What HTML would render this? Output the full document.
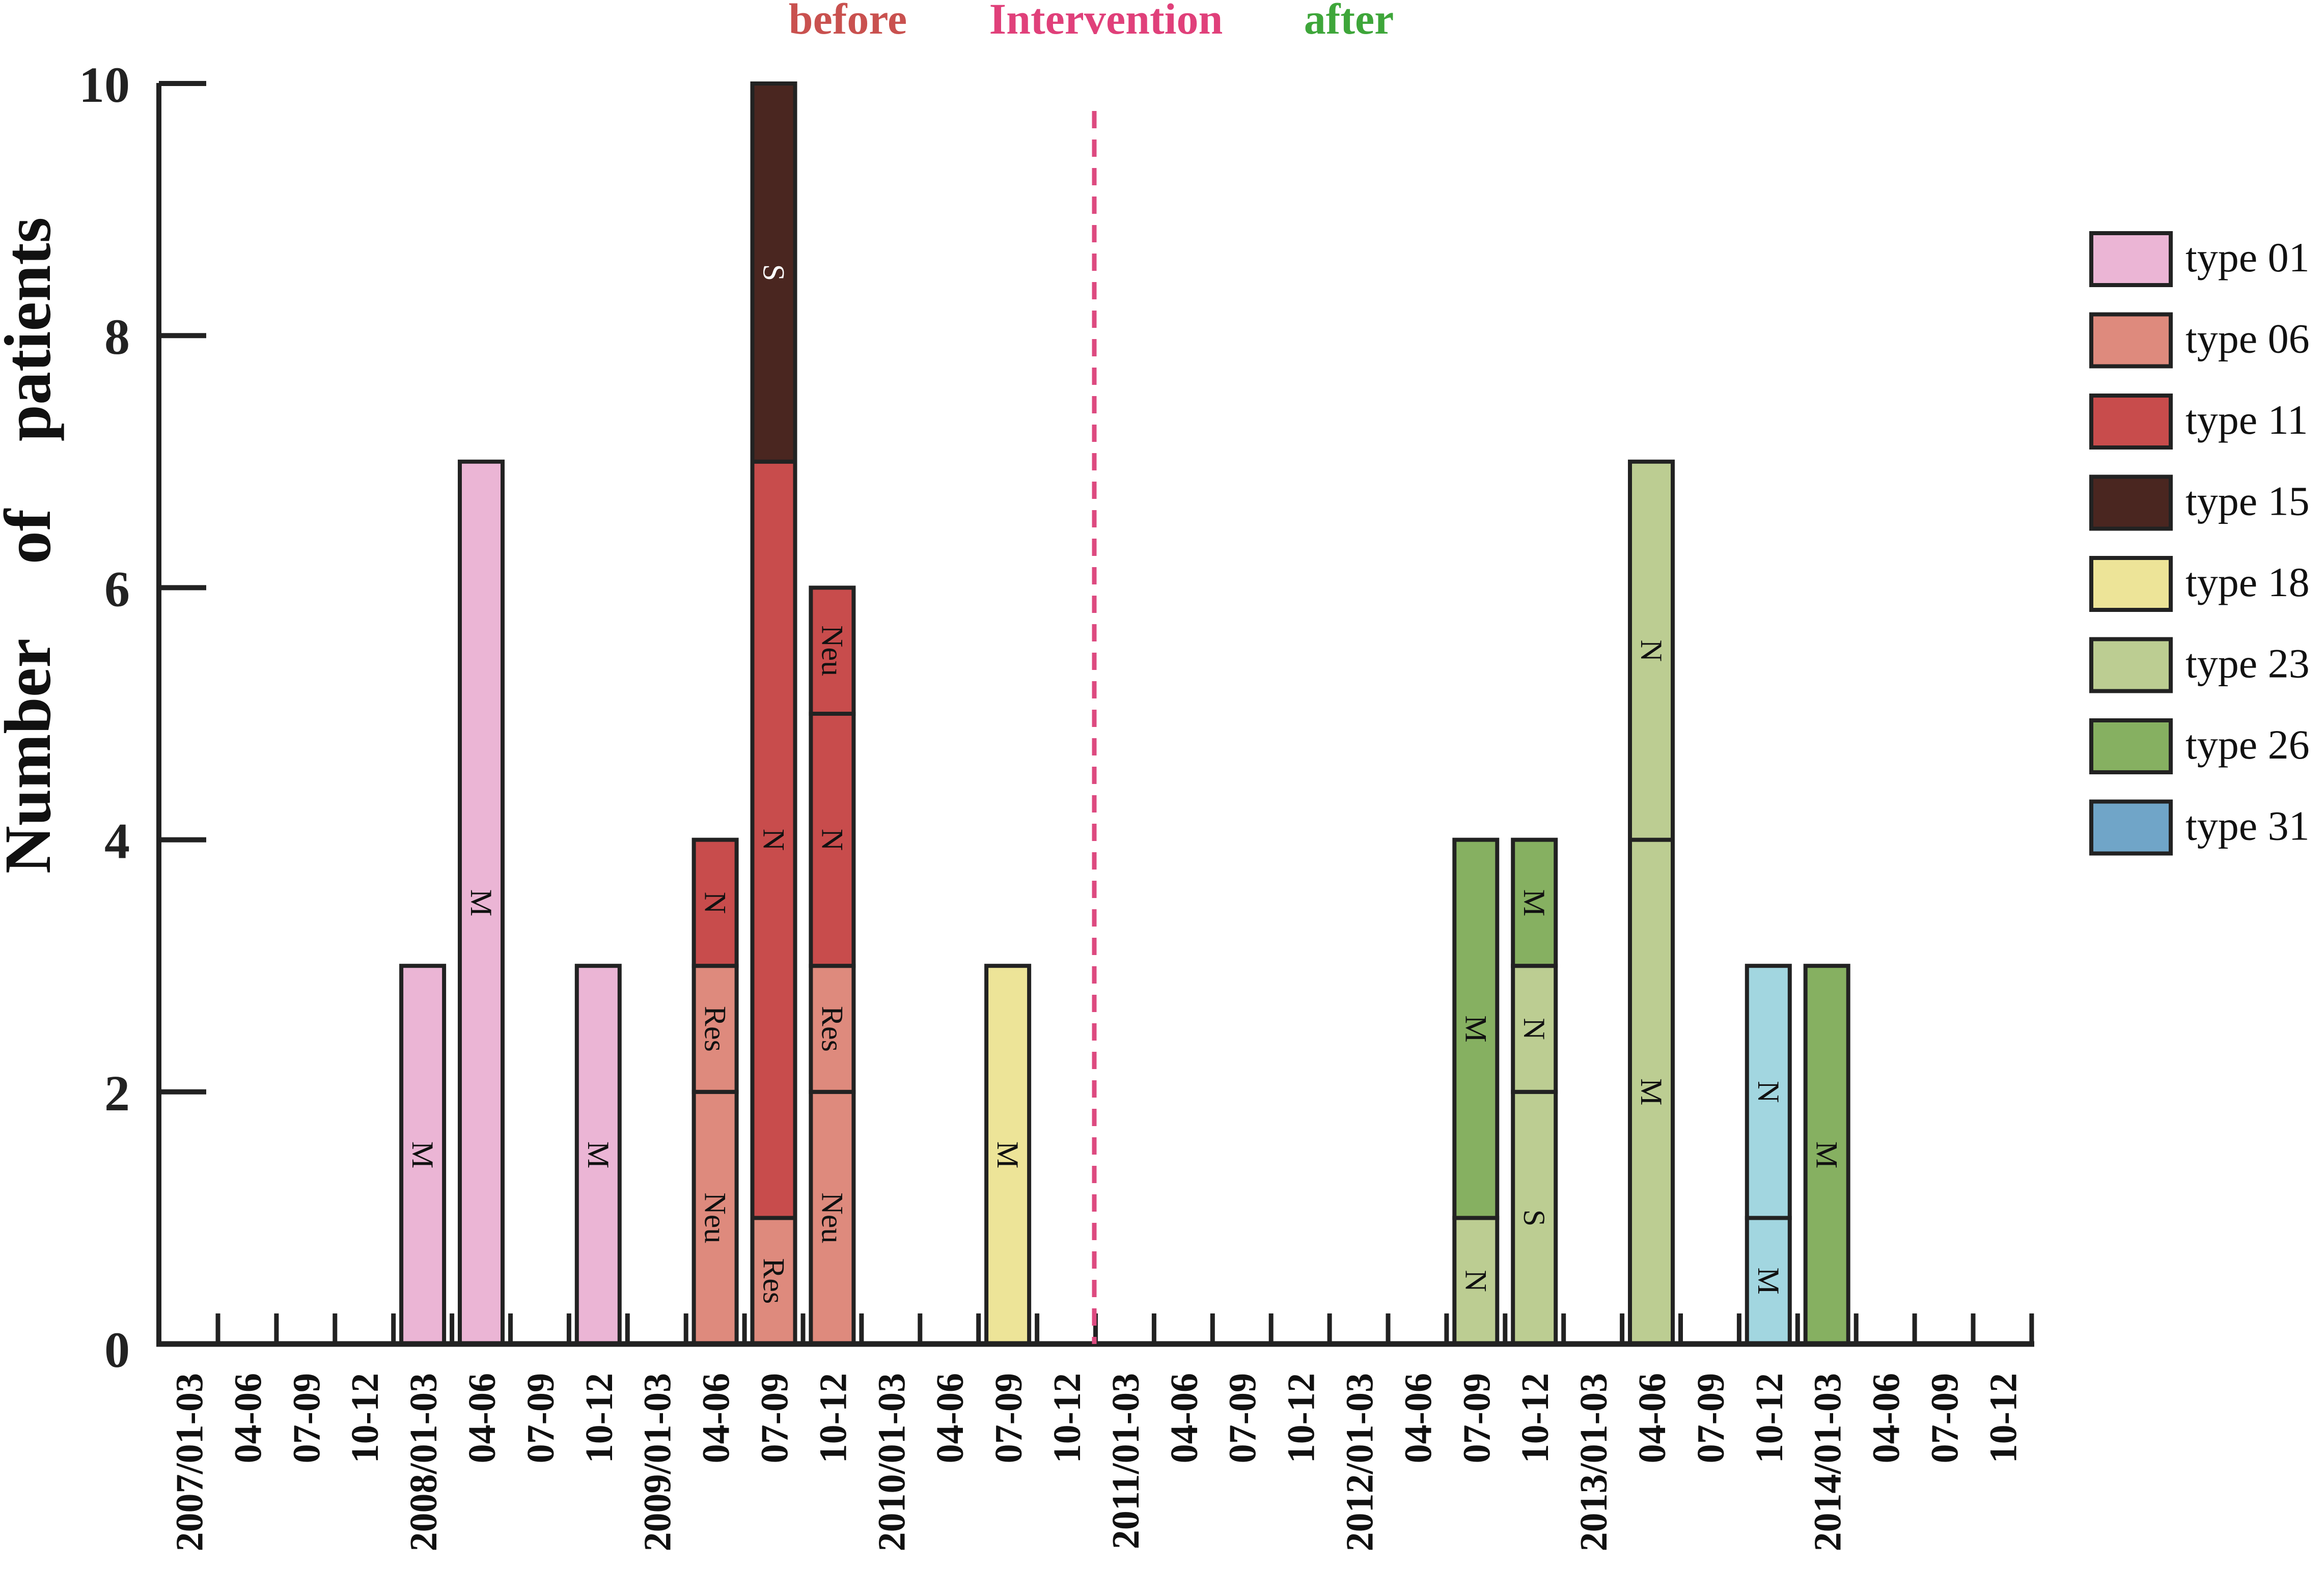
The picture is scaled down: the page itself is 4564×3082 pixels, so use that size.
<!DOCTYPE html>
<html><head><meta charset="utf-8"><style>
html,body{margin:0;padding:0;background:#fff;}
svg{display:block;}
</style></head><body>
<svg id="chart" width="4564" height="3082" viewBox="0 0 4564 3082" xmlns="http://www.w3.org/2000/svg">
<g id="bars"></g>
<g id="axes"></g>
<g id="legend"></g>
</svg>
<script>
const categories = ["2007/01-03","04-06","07-09","10-12","2008/01-03","04-06","07-09","10-12","2009/01-03","04-06","07-09","10-12","2010/01-03","04-06","07-09","10-12","2011/01-03","04-06","07-09","10-12","2012/01-03","04-06","07-09","10-12","2013/01-03","04-06","07-09","10-12","2014/01-03","04-06","07-09","10-12"];
const types = ["type 01","type 06","type 11","type 15","type 18","type 23","type 26","type 31"];
const barColors = ["#ebb5d5","#de8a7d","#c84c4c","#4a2620","#ede498","#bccd92","#86b061","#a2d6e0"];
const legendColors = ["#ebb5d5","#de8a7d","#c84c4c","#4a2620","#ede498","#bccd92","#86b061","#70a5c8"];
// segments: stacked in order
const segCategory = [4,5,7, 9,9,9, 10,10,10, 11,11,11,11, 14, 22,22, 23,23,23, 25,25, 27,27, 28];
const segType     = [0,0,0, 1,1,2, 1,2,3, 1,1,2,2, 4, 5,6, 5,5,6, 5,5, 7,7, 6];
const segCount    = [3,7,3, 2,1,1, 1,6,3, 2,1,2,1, 3, 1,3, 2,1,1, 4,3, 1,2, 3];
const segLabel    = ["M","M","M","Neu","Res","N","Res","N","S","Neu","Res","N","Neu","M","N","M","S","N","M","M","N","M","N","M"];
const yTicks = [0,2,4,6,8,10];

const NS="http://www.w3.org/2000/svg";
const X0=312, STEP=114.9, Y0=2640, UNIT=247.6;
const xC = c => 370.5 + STEP*c;
const yV = v => Y0 - UNIT*v;
function mk(tag, attrs, parent){const e=document.createElementNS(NS,tag);for(const k in attrs)e.setAttribute(k,attrs[k]);parent.appendChild(e);return e;}
const bars=document.getElementById('bars'), axes=document.getElementById('axes'), legend=document.getElementById('legend');

const stackTop = {};
const BW=84;
for(let i=0;i<segCategory.length;i++){
  const c=segCategory[i], base=stackTop[c]||0, top=base+segCount[i];
  stackTop[c]=top;
  const r=mk('rect',{x:xC(c)-BW/2,y:yV(top),width:BW,height:yV(base)-yV(top),fill:barColors[segType[i]],stroke:"#222",'stroke-width':8},bars);
  
  
  const cy=(yV(base)+yV(top))/2, cx=xC(c);
  const t=mk('text',{x:0,y:0,transform:`translate(${cx},${cy}) rotate(90)`,'text-anchor':'middle','dominant-baseline':'central','font-family':'Liberation Serif, serif','font-size':60,fill:segType[i]===3?"#fff":"#111"},bars);
  t.textContent=segLabel[i];
  
  
}

for(let i=0;i<categories.length;i++){
  const x=428+STEP*i;
  const l=mk('line',{x1:x,y1:2580,x2:x,y2:Y0,stroke:"#222",'stroke-width':9},axes);
  
  
  const t=mk('text',{x:0,y:0,transform:`translate(${xC(i)+27},2697) rotate(-90)`,'text-anchor':'end','font-family':'Liberation Serif, serif','font-weight':'bold','font-size':76,fill:"#111"},axes);
  t.textContent=categories[i];
  
  
}
let a=mk('line',{x1:X0,y1:163,x2:X0,y2:Y0+5,stroke:"#222",'stroke-width':10},axes);

a=mk('line',{x1:X0-5,y1:Y0,x2:3995,y2:Y0,stroke:"#222",'stroke-width':11},axes);

for(const v of yTicks){
  const l=mk('line',{x1:X0,y1:yV(v),x2:405,y2:yV(v),stroke:"#222",'stroke-width':10},axes);
  
  
  const t=mk('text',{x:255,y:yV(v)+(v===0?45:36),'text-anchor':'end','font-family':'Liberation Serif, serif','font-weight':'bold','font-size':100,fill:"#222"},axes);
  t.textContent=v;
  
  
}
[["Number",1485],["of",1054],["patients",647]].forEach(([w,y])=>{
  const t=mk('text',{x:0,y:0,transform:`translate(98,${y}) rotate(-90)`,'text-anchor':'middle','font-family':'Liberation Serif, serif','font-weight':'bold','font-size':130,fill:"#111"},axes);
  t.textContent=w;
  
  
});
a=mk('line',{x1:2149,y1:218,x2:2149,y2:Y0,stroke:"#dd4a80",'stroke-width':9,'stroke-dasharray':'34 22'},axes);

[["before",1665,"#c9514f"],["Intervention",2172,"#e0407a"],["after",2649,"#3ea63a"]].forEach(([w,x,col])=>{
  const t=mk('text',{x:x,y:66,'text-anchor':'middle','font-family':'Liberation Serif, serif','font-weight':'bold','font-size':86,fill:col},axes);
  t.textContent=w;
  
  
});
for(let i=0;i<types.length;i++){
  const y=458+159.5*i;
  const r=mk('rect',{x:4107,y:y,width:156,height:102,fill:legendColors[i],stroke:"#222",'stroke-width':8},legend);
  
  
  const t=mk('text',{x:4292,y:y+75,'font-family':'Liberation Serif, serif','font-size':82,fill:"#111"},legend);
  t.textContent=types[i];
  
  
}
</script>
</body></html>
